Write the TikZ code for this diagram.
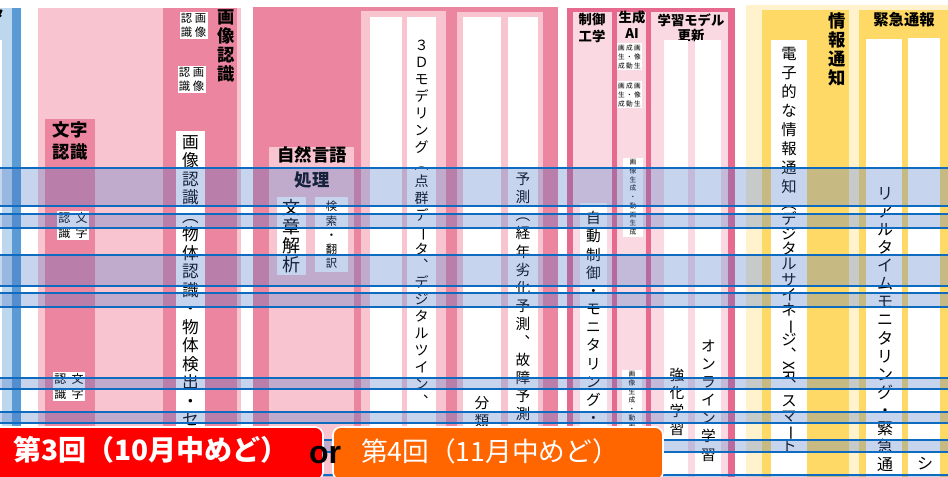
\documentclass[tikz,border=0pt]{standalone}
\usepackage{graphicx}
\usepackage{fontspec}
\setmainfont{Noto Sans CJK JP}
\newfontfamily\latinfont{Liberation Sans}
\usepackage{tikz}
\usetikzlibrary{positioning}
\usepackage{xcolor}
\definecolor{blueL}{HTML}{BDD7EE}
\definecolor{blueM}{HTML}{5B9BD5}
\definecolor{pinkL}{HTML}{F7C4D0}
\definecolor{pinkD}{HTML}{EC86A0}
\definecolor{pinkM}{HTML}{E8698E}
\definecolor{pinkP}{HTML}{FAD9E2}
\definecolor{yelL}{HTML}{FFF2CC}
\definecolor{yelD}{HTML}{FFD966}
\definecolor{bandblue}{HTML}{4472C4}
\definecolor{lineblue}{HTML}{0F6BBF}
\definecolor{orangeB}{HTML}{FF6600}

% vertical (tategaki) stack of characters
\makeatletter
\newcommand\vstack[2][1.2]{%
  \vbox{\baselineskip=#1em\lineskiplimit=-\maxdimen
    \@tfor\vs@c:=#2\do{\hbox to 1em{\hss\vs@c\hss}}}}
\makeatother
\newcommand\vbar{\rotatebox[origin=c]{-90}{ー}}
\newcommand\sidexr{\rotatebox[origin=c]{-90}{XR}}

\begin{document}
\begin{tikzpicture}[x=0.75pt,y=-0.75pt,
  lbl/.style={font=\bfseries\fontsize{10}{12.75}\selectfont, align=center, inner sep=0},
  coltext/.style={anchor=north, inner sep=0, font=\fontsize{11}{13}\selectfont},
  tag/.style={fill=white, inner sep=1pt, anchor=north},
  band/.style={fill=bandblue, fill opacity=0.3},
  bandedge/.style={draw=lineblue, line width=1.5pt},
  period/.style={draw=white, line width=1.2pt, rounded corners=6pt}]
  \useasboundingbox (0,0) rectangle (948,476);
  \fill[white] (0,0) rectangle (948,476);

  % left blue columns
  \fill[blueL] (-20,8) rectangle (12,490);
  \fill[white] (-20,40) rectangle (2,490);
  \fill[blueM] (12,8) rectangle (21,490);
  \node[lbl, font=\bfseries\fontsize{9}{9}\selectfont] (tBlue) at (-2,14) {タ};

  % recognition
  \fill[pinkL] (38,8) rectangle (241,490);
  \fill[pinkD] (45,119) rectangle (95,490);
  \node[lbl, font=\bfseries\fontsize{13}{16.5}\selectfont] (lblMoji) at (70,141) {文字\\認識};
  \node[tag, font=\fontsize{9}{9}\selectfont] (tagMojiA) at (73,211) {\vstack[1.25]{認識}\hspace{4pt}\vstack[1.25]{文字}};
  \node[tag, font=\fontsize{9}{9}\selectfont] (tagMojiB) at (69,372) {\vstack[1.25]{認識}\hspace{4pt}\vstack[1.25]{文字}};
  \fill[pinkD] (163,8) rectangle (237,490);
  \node[lbl, anchor=north, font=\bfseries\fontsize{13}{13}\selectfont] (lblGazo) at (226,9) {\vstack[1.1]{画像認識}};
  \node[tag, font=\fontsize{8.5}{9}\selectfont] (tagGazoA) at (193.5,12) {\vstack[1.25]{認識}\hspace{2pt}\vstack[1.25]{画像}};
  \node[tag, font=\fontsize{8.5}{9}\selectfont] (tagGazoB) at (191.5,66) {\vstack[1.25]{認識}\hspace{2pt}\vstack[1.25]{画像}};
  \fill[white] (176,131) rectangle (205,490);
  \node[coltext, font=\fontsize{12.5}{13}\selectfont] (txtGazo) at (190.5,135) {\vstack[1.11]{画像認識︵物体認識・物体検出・セ}};

  % language and modelling
  \fill[pinkD] (253,7) rectangle (558,490);
  \fill[pinkL] (269,147) rectangle (354,490);
  \node[lbl, font=\bfseries\fontsize{13}{18.75}\selectfont] (lblShizen) at (312,167) {自然言語\\処理};
  \fill[white] (277,197) rectangle (306,275);
  \node[coltext, font=\fontsize{13.5}{14}\selectfont] (txtBunsho) at (291.5,199) {\vstack[1.06]{文章解析}};
  \fill[white] (315,197) rectangle (348,272);
  \node[coltext, font=\fontsize{8.5}{9}\selectfont] (txtKensaku) at (331.5,201) {\vstack[1.26]{検索・翻訳}};
  \fill[pinkL] (361,11) rectangle (446,490);
  \fill[white] (370,17) rectangle (402,490);
  \fill[white] (407,17) rectangle (436,490);
  \node[coltext, font=\fontsize{10.5}{11}\selectfont] (txt3d) at (421.5,40) {\vstack[1.21]{３Ｄモデリング︵点群デ\vbar タ︑デジタルツイン︑}};
  \fill[pinkL] (457,12) rectangle (543,490);
  \fill[white] (463,17) rectangle (501,490);
  \fill[white] (508,17) rectangle (538,490);
  \node[coltext] (txtBunrui) at (482,396) {\vstack[1.23]{分類}};
  \node[coltext] (txtYosoku) at (523,173) {\vstack[1.23]{予測︵経年劣化予測︑故障予測}};

  % control, generation, learning
  \fill[pinkM] (567,8) rectangle (735,490);
  \fill[pinkP] (573,12) rectangle (612,490);
  \fill[pinkP] (617,12) rectangle (646,490);
  \fill[pinkP] (651,12) rectangle (728,490);
  \node[lbl] (lblSeigyo) at (592,28) {制御\\工学};
  \node[lbl, font=\bfseries\fontsize{10}{12}\selectfont] (lblSeisei) at (632,25) {生成\\AI};
  \node[lbl, font=\bfseries\fontsize{10}{11.25}\selectfont] (lblGakushu) at (691,27.5) {学習モデル\\更新};
  \fill[white] (580,203) rectangle (607,490);
  \node[coltext] (txtJido) at (593.5,211) {\vstack[1.24]{自動制御・モニタリング・}};
  \node[tag, font=\fontsize{5}{5}\selectfont] (tagGenA) at (629.5,43) {\vstack[1.35]{画生成}\hspace{1pt}\vstack[1.35]{成・動}\hspace{1pt}\vstack[1.35]{画像生}};
  \node[tag, font=\fontsize{5}{5}\selectfont] (tagGenB) at (629.5,81) {\vstack[1.35]{画生成}\hspace{1pt}\vstack[1.35]{成・動}\hspace{1pt}\vstack[1.35]{画像生}};
  \node[tag, inner xsep=5pt, font=\fontsize{5}{5}\selectfont] (tagGenC) at (633,158) {\vstack[1.31]{画像生成・動画生成}};
  \node[tag, inner xsep=5pt, font=\fontsize{5}{5}\selectfont] (tagGenD) at (632,370) {\vstack[1.31]{画像生成・動画生成}};
  \fill[white] (664,40) rectangle (688,490);
  \fill[white] (695,40) rectangle (721,490);
  \node[coltext] (txtKyoka) at (677,368) {\vstack[1.23]{強化学習}};
  \node[coltext] (txtOnline) at (708.5,340) {\vstack[1.23]{オンライン学習}};

  % notification
  \fill[yelL] (746,5) rectangle (960,490);
  \fill[yelD] (762,10) rectangle (849,490);
  \node[lbl, anchor=north, font=\bfseries\fontsize{13}{13}\selectfont] (lblJoho) at (837.5,12) {\vstack[1.1]{情報通知}};
  \fill[white] (771,40) rectangle (807,490);
  \node[coltext, font=\fontsize{11.5}{12}\selectfont] (txtDenshiA) at (789,47) {\vstack[1.24]{電子的な情報通知}};
  \node[coltext, font=\fontsize{11.5}{12}\selectfont] (txtDenshiB) at (789,206) {\vstack[0.99]{︵デジタルサイネ\vbar ジ︑\sidexr ︑スマ\vbar ト}};
  \fill[yelD] (859,10) rectangle (960,490);
  \node[lbl, font=\bfseries\fontsize{11.5}{12}\selectfont] (lblKinkyu) at (904,20) {緊急通報};
  \fill[white] (866,39) rectangle (902,490);
  \fill[white] (908,38) rectangle (940,490);
  \node[coltext, font=\fontsize{12}{13}\selectfont] (txtRealtime) at (885,187) {\vstack[1.13]{リアルタイムモニタリング・緊急通}};
  \node[coltext, font=\fontsize{12}{13}\selectfont] (txtShi) at (925,457) {シ};

  % highlight bands
  \foreach \top/\bot in {168/206, 214/228, 255/286, 293/307, 378/389, 412/423, 440/452, 475/495} {
    \fill[band] (-10,\top) rectangle (960,\bot);
    \draw[bandedge] (-10,\top) -- (960,\top);
    \draw[bandedge] (-10,\bot) -- (960,\bot);
  }

  % schedule
  \draw[period, fill=red] (-12,427) rectangle (323,480);
  \node[inner sep=0, text=white, font=\bfseries\fontsize{21}{21}\selectfont] (txtThird) at (151,450) {第3回（10月中めど）};
  \draw[period, fill=orangeB] (333,427) rectangle (663,480);
  \node[inner sep=0, text=white, font=\fontsize{20}{20}\selectfont] (txtFourth) at (490,451) {第4回（11月中めど）};
  \node[inner sep=0, font=\latinfont\bfseries\fontsize{24}{24}\selectfont] (orWord) at (325,455) {or};
\end{tikzpicture}
\end{document}
